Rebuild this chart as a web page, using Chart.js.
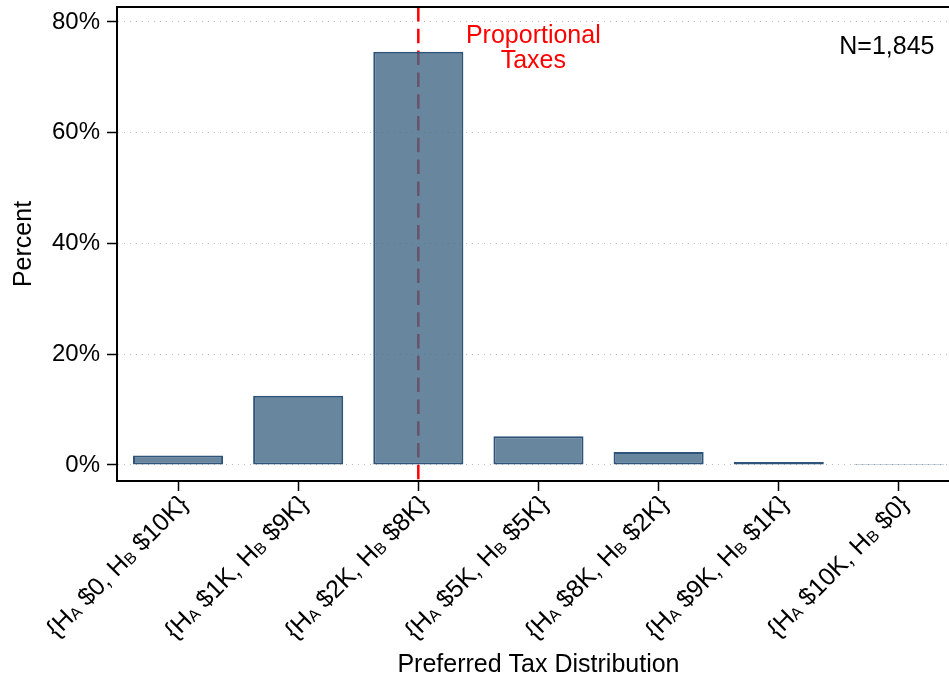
<!DOCTYPE html>
<html>
<head>
<meta charset="utf-8">
<script src="https://cdn.jsdelivr.net/npm/chart.js@4"></script>
<style>
  html, body { margin: 0; padding: 0; background: #fff; overflow: hidden; }
  #wrap { width: 949px; height: 679px; }
</style>
</head>
<body>
<div id="wrap"><canvas id="c" width="949" height="679"></canvas></div>
<script>
// Split of a $10K tax bill between household A and household B
const haAmounts = ['$0', '$1K', '$2K', '$5K', '$8K', '$9K', '$10K'];
const hbAmounts = ['$10K', '$9K', '$8K', '$5K', '$2K', '$1K', '$0'];
// Share of respondents choosing each split (%)
const percents = [1.7, 12.5, 74.6, 5.2, 2.35, 0.55, 0.2];
const yTicks = [0, 20, 40, 60, 80];
const proportionalIndex = 2;
const noteLines = ['Proportional', 'Taxes'];
const sampleLabel = 'N=1,845';
const xTitle = 'Preferred Tax Distribution';
const yTitle = 'Percent';

const FONT = '"Liberation Sans", Arial, Helvetica, sans-serif';

function labelParts(i) {
  return [
    { t: '{H' }, { t: 'A', sub: true },
    { t: ' ' + haAmounts[i] + ', H' }, { t: 'B', sub: true },
    { t: ' ' + hbAmounts[i] + '}' }
  ];
}

const decorations = {
  id: 'decorations',
  beforeDatasetsDraw(chart) {
    const { ctx, chartArea, scales } = chart;
    const x = scales.x.getPixelForValue(proportionalIndex);
    ctx.save();
    ctx.strokeStyle = '#ff0000';
    ctx.lineWidth = 2.5;
    ctx.setLineDash([14.5, 7.3]);
    ctx.beginPath();
    ctx.moveTo(x, chartArea.top);
    ctx.lineTo(x, chartArea.bottom - 1);
    ctx.stroke();
    ctx.restore();
  },
  afterDraw(chart) {
    const { ctx, chartArea, scales } = chart;
    const xs = scales.x;
    ctx.save();
    // top frame line
    ctx.strokeStyle = '#000';
    ctx.lineWidth = 2;
    ctx.beginPath();
    ctx.moveTo(chartArea.left - 1, chartArea.top);
    ctx.lineTo(chartArea.right, chartArea.top);
    ctx.stroke();

    // rotated category labels with subscripts
    ctx.fillStyle = '#000';
    ctx.textAlign = 'left';
    ctx.textBaseline = 'alphabetic';
    const mainFont = '25px ' + FONT;
    const subFont = '16px ' + FONT;
    for (let i = 0; i < haAmounts.length; i++) {
      const parts = labelParts(i);
      let total = 0;
      parts.forEach(p => {
        ctx.font = p.sub ? subFont : mainFont;
        p.w = ctx.measureText(p.t).width;
        total += p.w;
      });
      const px = xs.getPixelForValue(i);
      ctx.save();
      ctx.translate(px + 5, chartArea.bottom + 18);
      ctx.rotate(-Math.PI / 4);
      let cx = -total;
      parts.forEach(p => {
        ctx.font = p.sub ? subFont : mainFont;
        ctx.fillText(p.t, cx, p.sub ? 10 : 9);
        cx += p.w;
      });
      ctx.restore();
    }

    // axis titles
    ctx.font = '25px ' + FONT;
    ctx.textAlign = 'center';
    ctx.fillText(xTitle, xs.getPixelForValue(3), 672);
    ctx.save();
    ctx.translate(31, (chartArea.top + chartArea.bottom) / 2);
    ctx.rotate(-Math.PI / 2);
    ctx.fillText(yTitle, 0, 0);
    ctx.restore();

    // annotations
    ctx.fillStyle = '#ff0000';
    const nx = xs.getPixelForValue(proportionalIndex) + 115;
    ctx.fillText(noteLines[0], nx, 43);
    ctx.fillText(noteLines[1], nx, 68);
    ctx.fillStyle = '#000';
    ctx.textAlign = 'right';
    ctx.fillText(sampleLabel, chartArea.right - 14.5, 54);
    ctx.restore();
  }
};

new Chart(document.getElementById('c'), {
  type: 'bar',
  data: {
    datasets: [{
      data: percents.map((v, i) => ({ x: i, y: v })),
      backgroundColor: 'rgba(66,104,134,0.8)',
      borderColor: '#2f5479',
      borderWidth: 2,
      borderSkipped: false,
      barPercentage: 0.75,
      categoryPercentage: 1
    }]
  },
  options: {
    responsive: false,
    animation: false,
    devicePixelRatio: 1,
    layout: { padding: { top: 7, left: 0, right: 0, bottom: 0 } },
    plugins: { legend: { display: false }, tooltip: { enabled: false } },
    scales: {
      x: {
        type: 'linear',
        offset: false,
        min: -0.508,
        max: 6.417,
        afterFit(s) { s.height = 198; s.paddingLeft = 0; s.paddingRight = 0; },
        ticks: { stepSize: 1, includeBounds: false, callback: () => '' },
        grid: { offset: false, drawOnChartArea: false, drawTicks: true, tickLength: 10, tickColor: '#000', tickWidth: 1.5 },
        border: { color: '#000', width: 2 }
      },
      y: {
        min: -2.89,
        max: 82.7,
        afterFit(s) { s.width = 117; s.paddingTop = 0; s.paddingBottom = 0; },
        afterBuildTicks(s) { s.ticks = yTicks.map(v => ({ value: v })); },
        ticks: {
          callback: v => v + '%',
          color: '#000',
          font: { family: FONT, size: 24 },
          padding: 7
        },
        grid: { color: '#bdbdbd', lineWidth: 1, tickLength: 10, tickColor: '#000', tickWidth: 1.5 },
        border: { color: '#000', width: 2, dash: [1, 5] }
      }
    }
  },
  plugins: [decorations]
});
</script>
</body>
</html>
